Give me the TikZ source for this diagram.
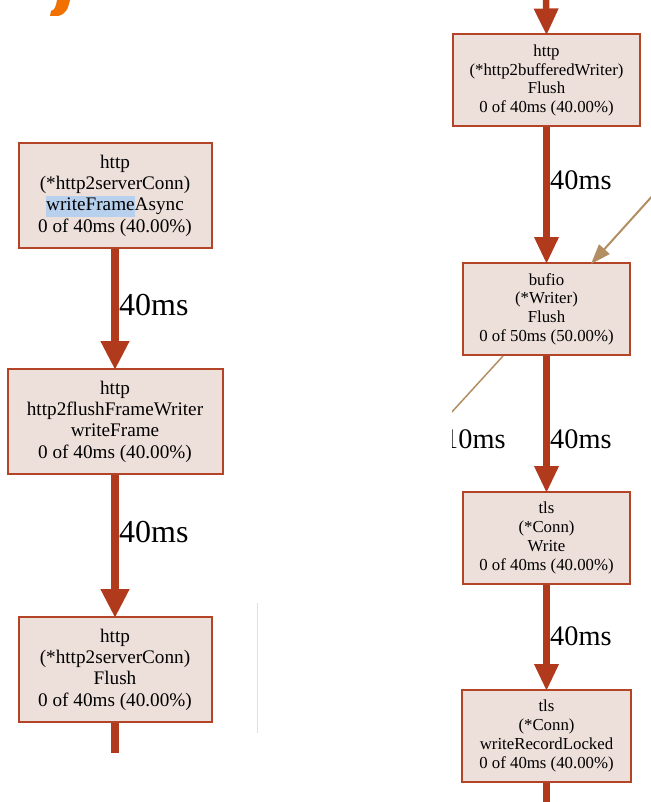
\documentclass[tikz,border=0pt]{standalone}
\usepackage{fontspec}
\setmainfont{Liberation Serif}
\usetikzlibrary{arrows.meta}

\definecolor{nodefill}{RGB}{237,223,218}
\definecolor{nodeborder}{RGB}{180,68,40}
\definecolor{hotedge}{RGB}{178,58,28}
\definecolor{warmedge}{RGB}{178,142,98}
\definecolor{selblue}{RGB}{183,208,238}
\definecolor{accent}{RGB}{240,112,0}

\tikzset{
  fnbox/.style={draw=nodeborder, fill=nodefill, line width=2pt, align=center,
    inner sep=0pt, minimum height=105pt},
  bigtext/.style={font=\fontsize{19.2}{21.3}\selectfont},
  smalltext/.style={font=\fontsize{16.8}{18.7}\selectfont},
  rbox/.style={fnbox, smalltext, minimum height=92pt},
  bigedge/.style={draw=hotedge, line width=8pt,
    -{Triangle[length=29pt,width=27pt]}, shorten >=-2pt},
  smalledge/.style={draw=hotedge, line width=6.5pt,
    -{Triangle[length=27pt,width=23pt]}, shorten >=-2pt},
  thinedge/.style={draw=warmedge, line width=2pt},
  biglabel/.style={anchor=west, inner sep=0pt, font=\fontsize{32}{32}\selectfont},
  smalllabel/.style={anchor=west, inner sep=0pt, font=\fontsize{28.3}{28.3}\selectfont},
}

\begin{document}
\begin{tikzpicture}[x=1pt, y=-1pt]
\useasboundingbox (0,0) rectangle (650,802);

% orange stroke in the top left corner
\fill[accent] (57,0) -- (70,0) .. controls (68,9) and (66,14) .. (58,16)
  -- (50,16) -- (51,11) .. controls (55,10) and (56,6) .. (57,0) -- cycle;

% faint separator line
\draw[black!12, line width=1pt] (257,603) -- (257,733);

% ---------- left call chain ----------
\node[fnbox, bigtext, minimum width=193pt] (wfa) at (115,195.5)
  {http\\(*http2serverConn)\\{\setlength{\fboxsep}{0pt}\colorbox{selblue}{\strut writeFrame}}Async\\0 of 40ms (40.00\%)};
\node[fnbox, bigtext, minimum width=215pt] (ffw) at (115,421.5)
  {http\\http2flushFrameWriter\\writeFrame\\0 of 40ms (40.00\%)};
\node[fnbox, bigtext, minimum width=193pt] (scf) at (115,669.5)
  {http\\(*http2serverConn)\\Flush\\0 of 40ms (40.00\%)};
\coordinate (scfout) at (115,753);

\draw[bigedge] (wfa) -- (ffw);
\draw[bigedge] (ffw) -- (scf);
\draw[draw=hotedge, line width=8pt] (scf) -- (scfout);

\node[biglabel] (l1) at (119,305) {40ms};
\node[biglabel] (l2) at (119,532) {40ms};

% ---------- right call chain ----------
\coordinate (bwin) at (546,-2);
\node[rbox, minimum width=187pt] (bwf) at (546.5,80.5)
  {http\\(*http2bufferedWriter)\\Flush\\0 of 40ms (40.00\%)};
\node[rbox, minimum width=167pt] (bfl) at (546.5,309)
  {bufio\\(*Writer)\\Flush\\0 of 50ms (50.00\%)};
\node[rbox, minimum width=167pt] (tlw) at (546.5,538)
  {tls\\(*Conn)\\Write\\0 of 40ms (40.00\%)};
\node[rbox, minimum width=169pt] (wrl) at (546.5,736)
  {tls\\(*Conn)\\writeRecordLocked\\0 of 40ms (40.00\%)};
\coordinate (wrlout) at (546.5,804);

\draw[smalledge] (bwin) -- (bwf.north);
\draw[smalledge] (bwf) -- (bfl);
\draw[smalledge] (bfl) -- (tlw);
\draw[smalledge] (tlw) -- (wrl);
\draw[draw=hotedge, line width=6.5pt] (wrl) -- (wrlout);

% second caller into bufio.Flush
\coordinate (bflin) at (655,193);
\draw[thinedge, -{Triangle[length=20pt,width=14pt]}] (bflin) -- (591,264);

\node[smalllabel] (r1) at (550,180) {40ms};
\node[smalllabel] (r2) at (550,439) {40ms};
\node[smalllabel] (r3) at (550,636) {40ms};

% the panel is cut off on its left side
\begin{scope}
  \clip (452,0) rectangle (650,802);
  \coordinate (bflout) at (503,356);
  \coordinate (bflfar) at (440,425);
  \draw[warmedge, line width=1.5pt] (bflout) -- (bflfar);
  \node[smalllabel] (r0) at (444,439) {10ms};
\end{scope}
\end{tikzpicture}
\end{document}
